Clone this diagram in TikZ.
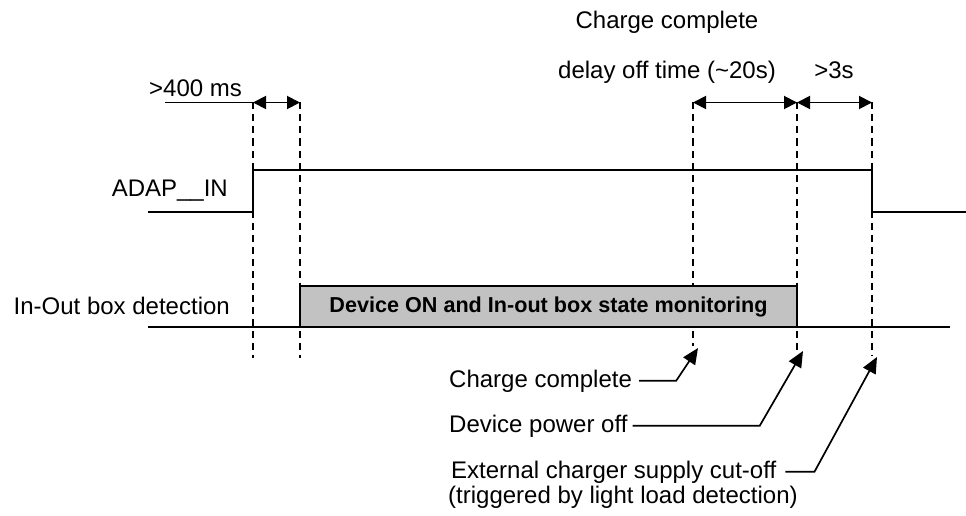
\documentclass[tikz,border=0pt]{standalone}
\usepackage{fontspec}
\setmainfont{Liberation Sans}
\usetikzlibrary{arrows.meta}

\begin{document}
\begin{tikzpicture}[x=1pt,y=-1pt,
  lbl/.style={inner sep=0pt,font=\fontsize{24pt}{25pt}\selectfont},
  sig/.style={line width=2.3pt,line join=miter},
  guide/.style={line width=1.3pt,dash pattern=on 7pt off 5pt},
  dimline/.style={line width=1.9pt,{Triangle[length=13pt,width=13pt]}-{Triangle[length=13pt,width=13pt]}},
  callout/.style={line width=1.7pt,-{Triangle[length=16pt,width=14pt]}},
  statebox/.style={draw,line width=2.2pt,fill={rgb,255:red,194;green,194;blue,194},
    minimum width=497pt,minimum height=41pt,inner sep=0pt,
    font=\fontsize{21.6pt}{22pt}\selectfont\bfseries}]

\useasboundingbox (0,0) rectangle (966,516);

% time marks on the dashed guides
\coordinate (a0) at (253,102.5);
\coordinate (a1) at (300,102.5);
\coordinate (b0) at (693,102.5);
\coordinate (b1) at (797,102.5);
\coordinate (b2) at (872,102.5);

% dashed guides
\draw[guide] (a0) -- (253,358);
\draw[guide] (a1) -- (300,358);
\draw[guide] (b0) -- (693,346);
\draw[guide] (b1) -- (797,350);
\draw[guide] (b2) -- (872,356);

% ADAP__IN waveform
\node[lbl,anchor=base east] (adap) at (228,196) {ADAP\_\_IN};
\draw[sig] (148,212) -- (253,212) -- (253,170) -- (872,170) -- (872,212) -- (966,212);

% In-Out box detection waveform with monitoring window
\node[lbl,anchor=base east] (inout) at (230,314) {In-Out box detection};
\draw[sig] (148,327) -- (950,327);
\node[statebox] (mon) at (548.5,306.5) {Device ON and In-out box state monitoring};

% timing annotations
\node[lbl,anchor=base west] (t400) at (149,97) {>400 ms};
\coordinate (u400) at (165,102.5);
\draw[line width=1.9pt] (u400) -- (a0);
\draw[dimline] (a0) -- (a1);

\node[lbl,anchor=base] (cctop) at (667,29) {Charge complete};
\node[lbl,anchor=base] (delay) at (667,79) {delay off time (\textasciitilde20s)};
\node[lbl,anchor=base] (t3s) at (834,79) {>3s};
\draw[dimline] (b0) -- (b1);
\draw[dimline] (b1) -- (b2);

% event callouts
\coordinate (p1) at (698,348);
\coordinate (p2) at (803,351);
\coordinate (p3) at (877,357);

\node[lbl,anchor=base west] (evcc) at (449,387) {Charge complete};
\draw[callout] ([xshift=7pt]evcc.east) -- ++(37,0) -- (p1);

\node[lbl,anchor=base west] (evoff) at (449,432) {Device power off};
\draw[callout] ([xshift=5pt]evoff.east) -- ++(127,0) -- (p2);

\node[lbl,anchor=base west] (evext) at (451,478) {External charger supply cut-off};
\node[lbl,anchor=base west] (evext2) at (448,503) {(triggered by light load detection)};
\draw[callout] ([xshift=9pt]evext.east) -- ++(29,0) -- (p3);

\end{tikzpicture}
\end{document}
